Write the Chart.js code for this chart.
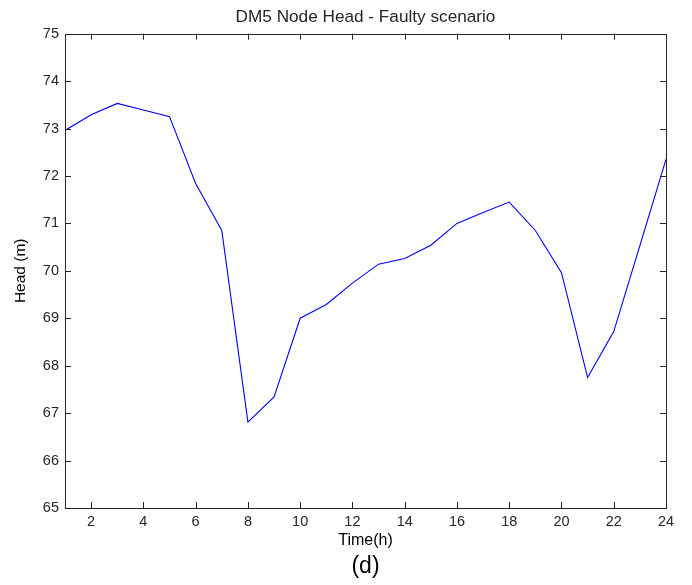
<!DOCTYPE html>
<html>
<head>
<meta charset="utf-8">
<script src="https://cdn.jsdelivr.net/npm/chart.js@4"></script>
<style>
  html, body { margin: 0; padding: 0; background: #ffffff; }
  #c { display: block; }
</style>
</head>
<body>
<canvas id="c" width="692" height="585"></canvas>
<script>
// ---- data ----
const hours = [1, 2, 3, 4, 5, 6, 7, 8, 9, 10, 11, 12, 13, 14, 15, 16, 17, 18, 19, 20, 21, 22, 23, 24];
const head = [72.96, 73.29, 73.53, 73.39, 73.25, 71.84, 70.85, 66.81, 67.34, 69.00, 69.29, 69.74,
              70.14, 70.26, 70.54, 71.00, 71.23, 71.45, 70.85, 69.96, 67.75, 68.72, 70.53, 72.35];
const xTicks = [2, 4, 6, 8, 10, 12, 14, 16, 18, 20, 22, 24];
const yTicks = [65, 66, 67, 68, 69, 70, 71, 72, 73, 74, 75];
const titleText = 'DM5 Node Head - Faulty scenario';
const xLabel = 'Time(h)';
const yLabel = 'Head (m)';
const panelLabel = '(d)';

const FONT = "'Liberation Sans', Arial, Helvetica, sans-serif";
const INK = '#262626';

const boxPlugin = {
  id: 'matlabBox',
  afterDatasetsDraw(chart) {
    const { ctx, chartArea: a, scales } = chart;
    ctx.save();
    ctx.strokeStyle = INK;
    ctx.lineWidth = 1;
    const L = 6;
    ctx.beginPath();
    xTicks.forEach(v => {
      const px = Math.round(scales.x.getPixelForValue(v)) + 0.5;
      if (px <= a.left + 1 || px >= a.right - 1) return;
      ctx.moveTo(px, a.bottom); ctx.lineTo(px, a.bottom - L);
      ctx.moveTo(px, a.top); ctx.lineTo(px, a.top + L);
    });
    yTicks.forEach(v => {
      const py = Math.round(scales.y.getPixelForValue(v)) + 0.5;
      if (py <= a.top + 1 || py >= a.bottom - 1) return;
      ctx.moveTo(a.left, py); ctx.lineTo(a.left + L, py);
      ctx.moveTo(a.right, py); ctx.lineTo(a.right - L, py);
    });
    ctx.stroke();
    ctx.strokeRect(Math.round(a.left) + 0.5, Math.round(a.top) + 0.5,
                   Math.round(a.right - a.left), Math.round(a.bottom - a.top));
    ctx.restore();
  }
};

new Chart(document.getElementById('c'), {
  type: 'line',
  data: {
    datasets: [{
      data: hours.map((h, i) => ({ x: h, y: head[i] })),
      borderColor: '#0000ff',
      borderWidth: 1.1,
      pointRadius: 0,
      tension: 0,
      fill: false
    }]
  },
  options: {
    responsive: false,
    devicePixelRatio: 1,
    animation: false,
    layout: { padding: { left: 0, right: 26, top: 0, bottom: 0 } },
    plugins: {
      legend: { display: false },
      tooltip: { enabled: false },
      title: {
        display: true,
        fullSize: false,
        text: titleText,
        color: INK,
        font: { family: FONT, size: 17.2, weight: 'normal' },
        padding: { top: 7, bottom: 6 }
      },
      subtitle: {
        display: true,
        fullSize: false,
        position: 'bottom',
        text: panelLabel,
        color: '#000000',
        font: { family: FONT, size: 23, weight: 'normal' },
        padding: { top: 0, bottom: 5 }
      }
    },
    scales: {
      x: {
        type: 'linear',
        min: 1,
        max: 24,
        afterBuildTicks(scale) { scale.ticks = xTicks.map(v => ({ value: v })); },
        afterFit(scale) { scale.height = 44.4; },
        grid: { display: false, drawTicks: false },
        border: { display: false },
        ticks: {
          color: INK,
          font: { family: FONT, size: 14.5 },
          padding: 5,
          maxRotation: 0,
          autoSkip: false
        },
        title: {
          display: true,
          text: xLabel,
          color: '#000000',
          font: { family: FONT, size: 16 },
          padding: { top: 0, bottom: 2 }
        }
      },
      y: {
        type: 'linear',
        min: 65,
        max: 75,
        afterBuildTicks(scale) { scale.ticks = yTicks.map(v => ({ value: v })); },
        afterFit(scale) { scale.width = 65; },
        grid: { display: false, drawTicks: false },
        border: { display: false },
        ticks: {
          color: INK,
          font: { family: FONT, size: 14.5 },
          padding: 6,
          autoSkip: false
        },
        title: {
          display: true,
          text: yLabel,
          color: '#000000',
          font: { family: FONT, size: 15.5 },
          padding: { top: 11, bottom: 0 }
        }
      }
    }
  },
  plugins: [boxPlugin]
});
</script>
</body>
</html>
